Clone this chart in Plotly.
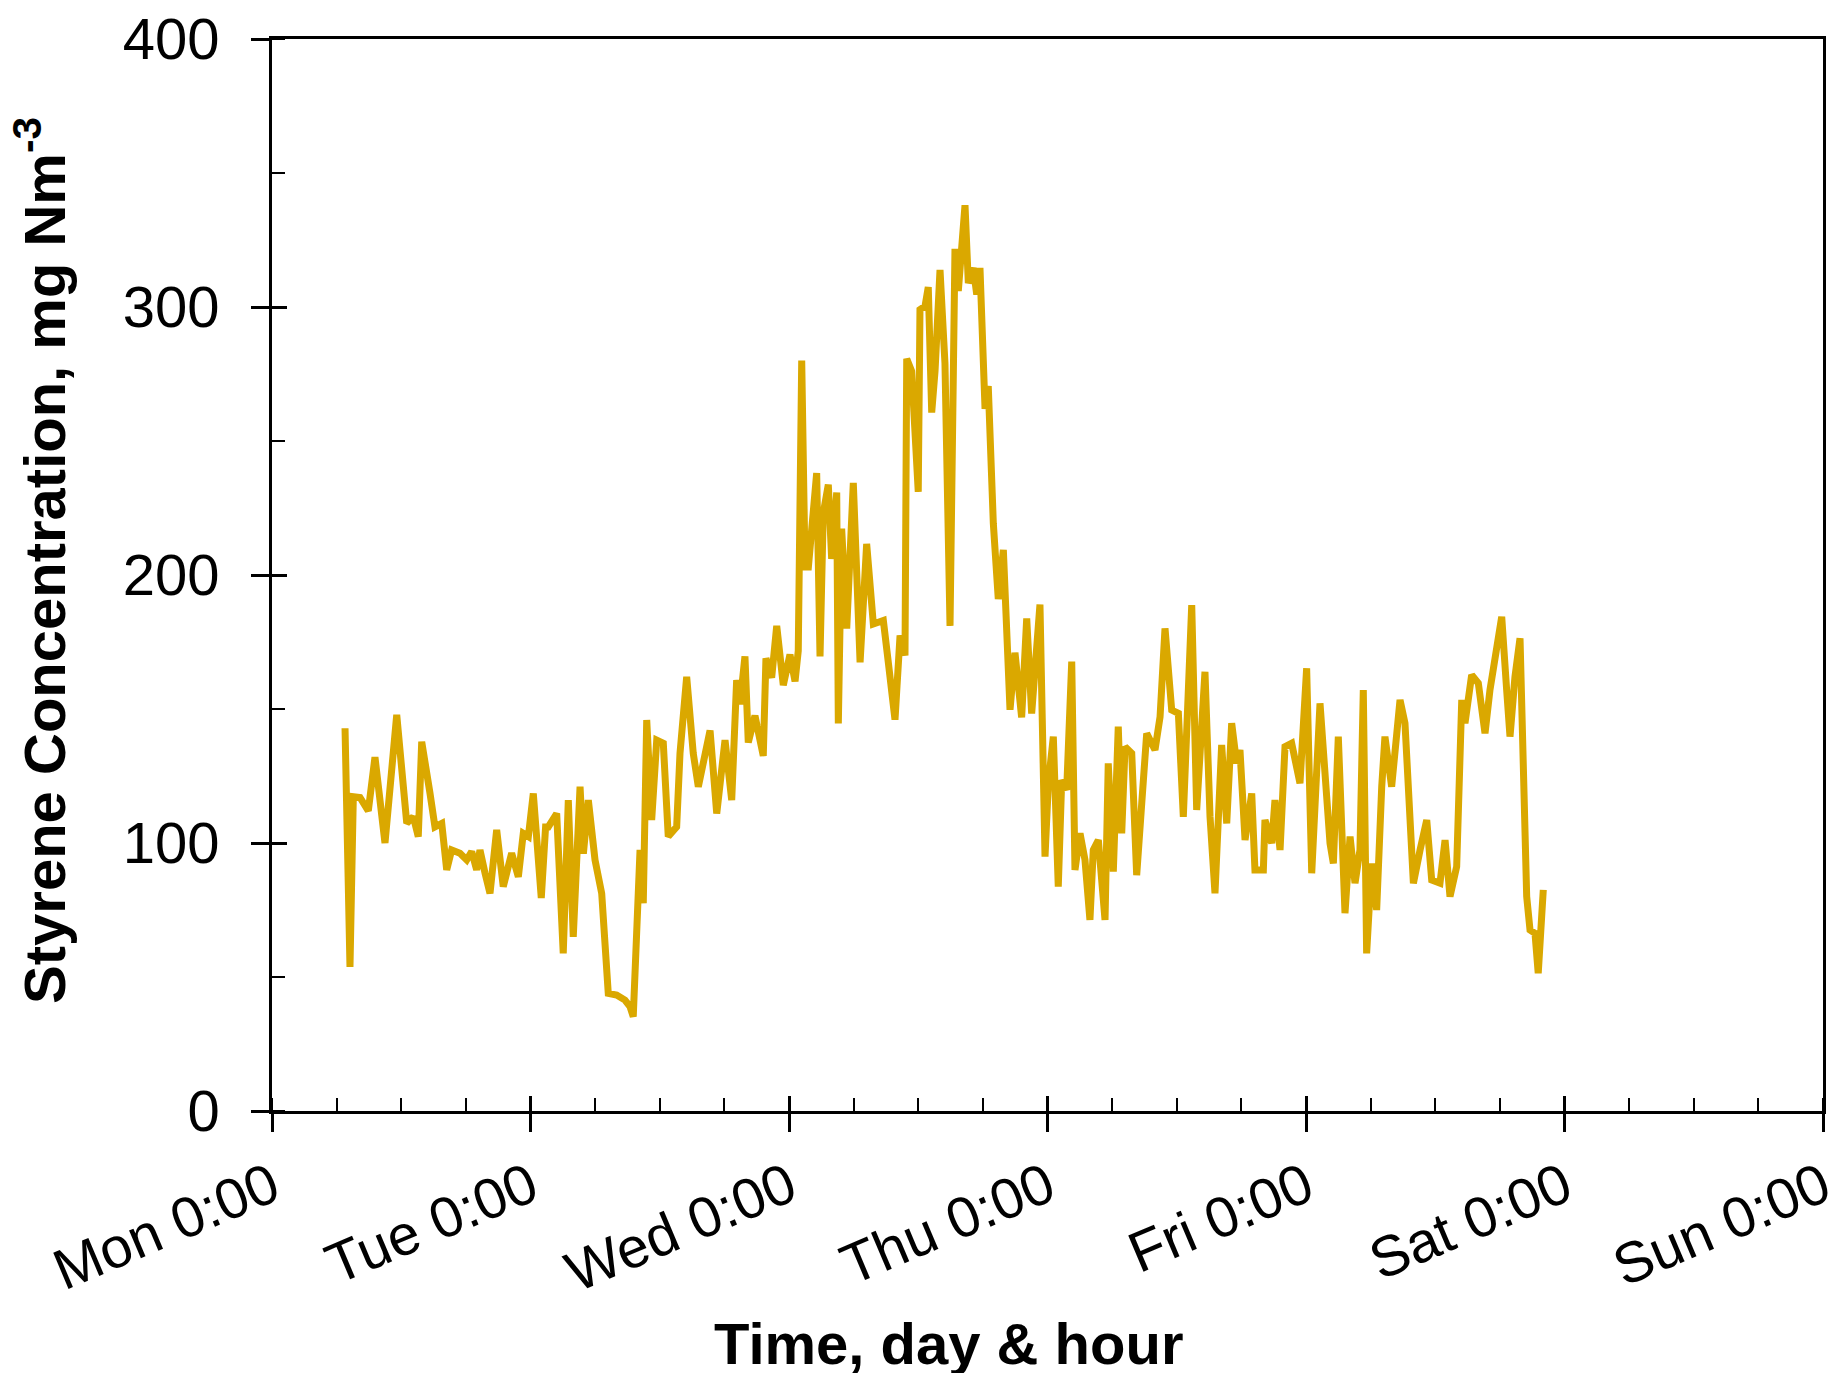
import plotly.graph_objects as go

# Time in hours since Monday 0:00, styrene concentration (mg Nm-3)
hours = [6.78, 7.24, 7.55, 8.17, 8.94, 9.56, 10.49, 11.58, 12.51, 13.12, 13.58, 13.90, 14.67, 15.13,
         15.76, 16.22, 16.68, 17.45, 18.08, 18.54, 19.00, 19.31, 19.78, 20.24, 20.86, 21.47, 22.25,
         22.87, 23.33, 23.80, 24.26, 25.00, 25.40, 25.65, 26.43, 27.04, 27.51, 27.97, 28.60, 28.91,
         29.37, 29.99, 30.61, 31.22, 32.00, 32.77, 33.24, 33.54, 34.17, 34.47, 34.79, 35.25, 35.72,
         36.33, 36.79, 37.57, 37.88, 38.50, 39.11, 39.58, 40.67, 41.29, 42.06, 42.68, 43.14, 43.45,
         43.91, 44.22, 44.84, 45.61, 45.86, 46.39, 46.86, 47.47, 48.09, 48.56, 48.86, 49.18, 49.49,
         49.80, 50.57, 50.88, 51.18, 51.65, 51.96, 52.43, 52.58, 52.89, 53.36, 53.97, 54.60, 55.21,
         55.83, 56.76, 57.22, 57.84, 58.31, 58.77, 58.93, 59.39, 60.00, 60.16, 60.63, 60.93, 61.25,
         61.56, 62.02, 62.48, 62.95, 63.41, 63.72, 64.03, 64.34, 64.65, 65.11, 65.43, 65.73, 66.20,
         66.50, 66.97, 67.43, 67.90, 68.52, 68.98, 69.60, 70.07, 70.53, 71.30, 71.77, 72.08, 72.54,
         73.00, 73.32, 73.78, 74.25, 74.55, 75.02, 75.48, 75.94, 76.25, 76.72, 77.34, 77.64, 78.11,
         78.57, 78.89, 79.20, 79.82, 80.28, 80.75, 81.21, 81.98, 82.45, 82.91, 83.53, 84.15, 84.61,
         85.39, 85.85, 86.62, 87.09, 87.55, 88.17, 88.64, 89.10, 89.56, 89.87, 90.34, 90.96, 91.26,
         92.04, 92.19, 92.82, 93.12, 93.59, 94.05, 94.67, 95.44, 96.06, 96.53, 97.30, 97.92, 98.23,
         98.54, 99.00, 99.62, 100.09, 100.55, 101.01, 101.32, 101.63, 102.10, 102.56, 103.03, 103.33,
         103.95, 104.73, 105.19, 105.50, 105.97, 106.59, 107.21, 107.67, 108.44, 108.91, 109.37,
         109.99, 110.46, 110.76, 111.38, 112.00, 112.62, 113.08, 113.55, 114.17, 114.63, 114.94,
         115.40, 115.87, 116.49, 116.80, 117.26, 117.56, 118.03]

concentration = [142.8, 53.8, 117.3, 117.0, 112.0, 132.0, 100.0, 147.8, 107.4, 109.8, 102.4, 137.8,
                 118.5, 106.0, 107.3, 90.0, 97.4, 96.2, 93.7, 96.8, 90.0, 97.4, 88.7, 81.2, 104.9,
                 83.7, 96.2, 87.4, 103.6, 102.4, 118.5, 79.5, 106.0, 106.0, 111.0, 58.8, 116.0, 65.0,
                 121.0, 96.0, 116.0, 93.7, 81.2, 43.9, 43.3, 41.4, 38.9, 35.2, 97.4, 77.5, 145.9,
                 108.6, 138.4, 137.2, 102.4, 106.0, 133.5, 162.0, 133.5, 121.0, 142.0, 111.0, 138.4,
                 116.0, 160.8, 151.8, 169.6, 137.5, 147.5, 132.5, 168.9, 161.7, 181.0, 158.9, 170.3,
                 160.3, 171.7, 280.0, 203.0, 203.0, 238.0, 169.6, 223.0, 233.7, 206.0, 230.8, 144.6,
                 217.3, 180.0, 234.4, 167.4, 211.6, 181.7, 183.0, 167.4, 146.0, 177.4, 170.0, 280.7,
                 276.0, 231.0, 299.0, 300.3, 307.4, 260.6, 276.2, 313.8, 279.0, 181.0, 321.7, 306.0,
                 320.2, 338.0, 308.9, 314.6, 304.6, 314.6, 262.0, 270.5, 219.3, 191.0, 209.4, 149.7,
                 171.0, 146.9, 183.8, 148.3, 189.0, 94.9, 122.3, 139.7, 83.7, 123.5, 119.8, 167.7,
                 89.9, 103.6, 93.7, 71.3, 97.4, 101.1, 71.3, 129.7, 89.3, 143.4, 103.6, 135.9, 133.5,
                 88.0, 114.8, 140.9, 134.7, 147.1, 180.1, 149.6, 148.4, 109.8, 188.8, 112.3, 163.9,
                 109.8, 81.2, 136.6, 107.3, 144.7, 129.7, 134.7, 101.1, 118.5, 89.9, 89.9, 108.6, 99.9,
                 116.0, 97.4, 135.9, 137.2, 122.3, 165.2, 88.7, 152.1, 117.3, 99.9, 92.4, 139.7, 73.8,
                 102.4, 85.0, 97.4, 157.1, 58.8, 92.4, 75.0, 121.0, 139.7, 121.0, 153.4, 144.7, 122.3,
                 85.0, 97.4, 108.6, 86.2, 85.0, 101.1, 80.0, 91.2, 153.4, 144.7, 162.7, 159.6, 140.9,
                 157.1, 169.5, 184.4, 157.1, 139.7, 162.0, 176.4, 80.0, 67.5, 66.3, 51.4, 82.5]

tick_hours = [0, 24, 48, 72, 96, 120, 144]
tick_labels = ["Mon 0:00", "Tue 0:00", "Wed 0:00", "Thu 0:00", "Fri 0:00", "Sat 0:00", "Sun 0:00"]
y_ticks = [0, 100, 200, 300, 400]

FONT = "Arial, Liberation Sans, sans-serif"
LINE_COLOR = "#DAA800"

fig = go.Figure()
fig.add_trace(go.Scatter(x=hours, y=concentration, mode="lines",
                         line=dict(color=LINE_COLOR, width=7), showlegend=False))
# dummy trace for the overlay axes (inner halves of the major ticks)
fig.add_trace(go.Scatter(x=[None], y=[None], xaxis="x2", yaxis="y2", showlegend=False,
                         hoverinfo="skip"))

fig.update_layout(
    width=1822, height=1365,
    margin=dict(l=264, r=7, t=31, b=262, autoexpand=False),
    plot_bgcolor="white", paper_bgcolor="white",
    font=dict(family=FONT, size=56, color="black"),
    xaxis=dict(range=[0, 144], tickvals=tick_hours, ticktext=tick_labels, tickangle=-23,
               ticks="outside", ticklen=18, tickwidth=2.5, tickcolor="black",
               showline=True, linecolor="black", linewidth=2.5, mirror=True,
               showgrid=False, zeroline=False, ticklabeloverflow="allow", automargin=False,
               tickfont=dict(family=FONT, size=57),
               minor=dict(dtick=6, ticks="inside", ticklen=13, tickwidth=2, tickcolor="black")),
    yaxis=dict(range=[0, 400], tickvals=y_ticks, ticks="outside", ticklen=18, tickwidth=2.5,
               tickcolor="black", showline=True, linecolor="black", linewidth=2.5, mirror=True,
               showgrid=False, zeroline=False, ticklabelstandoff=20, ticklabeloverflow="allow",
               automargin=False, tickfont=dict(family=FONT, size=58),
               minor=dict(dtick=50, ticks="inside", ticklen=13, tickwidth=2, tickcolor="black")),
    xaxis2=dict(range=[0, 144], overlaying="x", anchor="y", side="bottom", tickvals=tick_hours,
                ticks="inside", ticklen=15, tickwidth=2.5, tickcolor="black", automargin=False,
                showticklabels=False, showline=False, showgrid=False, zeroline=False),
    yaxis2=dict(range=[0, 400], overlaying="y", anchor="x", side="left", tickvals=y_ticks,
                ticks="inside", ticklen=15, tickwidth=2.5, tickcolor="black", automargin=False,
                showticklabels=False, showline=False, showgrid=False, zeroline=False),
    annotations=[
        dict(text="Time, day &amp; hour", xref="paper", yref="paper", x=0.436, y=-0.217,
             xanchor="center", yanchor="middle", showarrow=False,
             font=dict(family=FONT, size=58, color="black", weight="bold")),
        dict(text="Styrene Concentration, mg Nm<sup>-3</sup>", xref="paper", yref="paper",
             x=-0.149, y=0.514, xanchor="center", yanchor="middle", textangle=-90,
             showarrow=False, font=dict(family=FONT, size=58, color="black", weight="bold")),
    ],
)

fig.write_html("out.html")
